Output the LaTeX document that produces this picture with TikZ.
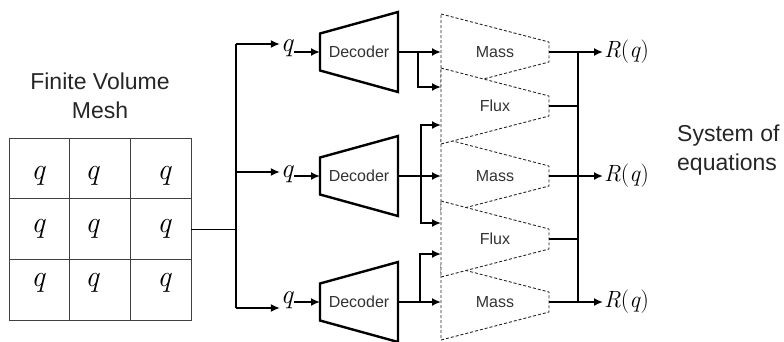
\documentclass[tikz,border=0pt]{standalone}
\usepackage[no-math]{fontspec}
\setmainfont{Liberation Sans}
\usetikzlibrary{arrows.meta}
\newcommand\lmit{\fontfamily{lmr}\selectfont\itshape}
\newcommand\lmup{\fontfamily{lmr}\selectfont\upshape}
\begin{document}
\begin{tikzpicture}[x=1pt,y=-1pt,
  dec/.style={draw=black, line width=2.4pt, line join=miter, fill=white},
  blk/.style={draw=black!85, dash pattern=on 3pt off 2pt, line width=0.9pt, fill=white},
  conn/.style={line width=1.7pt, draw=black},
  arr/.style={conn, -{Latex[length=9pt,width=8pt]}},
  lbl/.style={font=\fontsize{16}{18}\selectfont, text=black!80, inner sep=0pt},
  ttl/.style={font=\fontsize{23}{28.5}\selectfont, text=black!85, align=center, inner sep=0pt},
  mq/.style={font=\fontsize{27}{29}\lmit, inner sep=1pt, outer sep=0pt},
  cq/.style={font=\fontsize{30}{32}\lmit, inner sep=0pt},
  rq/.style={font=\fontsize{23.5}{25}\lmup, inner sep=1pt, anchor=west},
  grid/.style={draw=black!75, line width=0.8pt}]
\useasboundingbox (0,0) rectangle (784,341);

% titles
\node[ttl] (fvm) at (100,95.75) {Finite Volume\\Mesh};
\node[ttl, align=left, anchor=west] (soe) at (677,150.25) {System of\\equations};

% mesh
\node[grid, draw, minimum width=182pt, minimum height=182.5pt, inner sep=0pt] (mesh) at (100,229.5) {};
\draw[grid] (69.7,138.3) -- (69.7,320.7);
\draw[grid] (130.3,138.3) -- (130.3,320.7);
\draw[grid] (9,198.5) -- (191,198.5);
\draw[grid] (9,259.5) -- (191,259.5);
\foreach \r/\yy in {1/176,2/229,3/283}{
  \node[cq] (c\r a) at (38,\yy) {q};
  \node[cq] (c\r b) at (92,\yy) {q};
  \node[cq] (c\r c) at (164,\yy) {q};
}

% input bus
\coordinate (bm) at (236,229.5);
\coordinate (b1) at (236,44);
\coordinate (b2) at (236,172);
\coordinate (b3) at (236,308);
\draw[conn] (mesh.east) -- (bm);
\draw[conn] (b1) -- (b3);

% decoders
\foreach \i/\cy/\qy in {1/52/48,2/176/174,3/302/300}{
  \draw[dec] (320,{\cy-18.5}) -- (398,{\cy-40}) -- (398,{\cy+40}) -- (320,{\cy+18.5}) -- cycle;
  \node[lbl] (dec\i) at (359,\cy) {Decoder};
  \coordinate (d\i w) at (320,\cy);
  \coordinate (d\i e) at (398,\cy);
  \node[mq] (q\i) at (287,\qy) {q};
  \draw[arr] (q\i.east |- d\i w) -- (d\i w);
}
\draw[arr] (b1) -- (q1.west |- b1);
\draw[arr] (b2) -- (q2.west |- b2);
\draw[arr] (b3) -- (q3.west |- b3);

% mass and flux blocks
\foreach \i/\cy in {1/52,2/176,3/302}{
  \draw[blk] (441,{\cy-38}) -- (549,{\cy-10}) -- (549,{\cy+10}) -- (441,{\cy+38}) -- cycle;
  \node[lbl] (m\i) at (495,\cy) {Mass};
  \coordinate (m\i w) at (441,\cy);
  \coordinate (m\i e) at (549,\cy);
}
\foreach \i/\cy in {1/106,2/239}{
  \draw[blk] (441,{\cy-38}) -- (549,{\cy-10}) -- (549,{\cy+10}) -- (441,{\cy+38}) -- cycle;
  \node[lbl] (f\i) at (495,\cy) {Flux};
  \coordinate (f\i w) at (441,\cy);
  \coordinate (f\i e) at (549,\cy);
}
\coordinate (f1a) at (441,87);
\coordinate (f1b) at (441,125);
\coordinate (f2a) at (441,223);
\coordinate (f2b) at (441,254);
\coordinate (s1) at (418,52);
\coordinate (s2) at (421,176);
\coordinate (s3) at (420,302);

% decoder outputs
\draw[arr] (d1e) -- (m1w);
\draw[arr] (s1) |- (f1a);
\draw[arr] (d2e) -- (m2w);
\draw[arr] (s2) |- (f1b);
\draw[arr] (s2) |- (f2a);
\draw[arr] (d3e) -- (m3w);
\draw[arr] (s3) |- (f2b);

% outputs
\coordinate (o1) at (578,52);
\coordinate (o3) at (578,302);
\draw[conn] (o1) -- (o3);
\foreach \i/\cy in {1/52,2/176,3/302}{
  \node[rq] (R\i) at (603,\cy) {{\itshape R}({\itshape q\/})};
  \draw[arr] (m\i e) -- (R\i.west);
}
\draw[conn] (f1e) -- (f1e -| o1);
\draw[conn] (f2e) -- (f2e -| o1);
\end{tikzpicture}
\end{document}
